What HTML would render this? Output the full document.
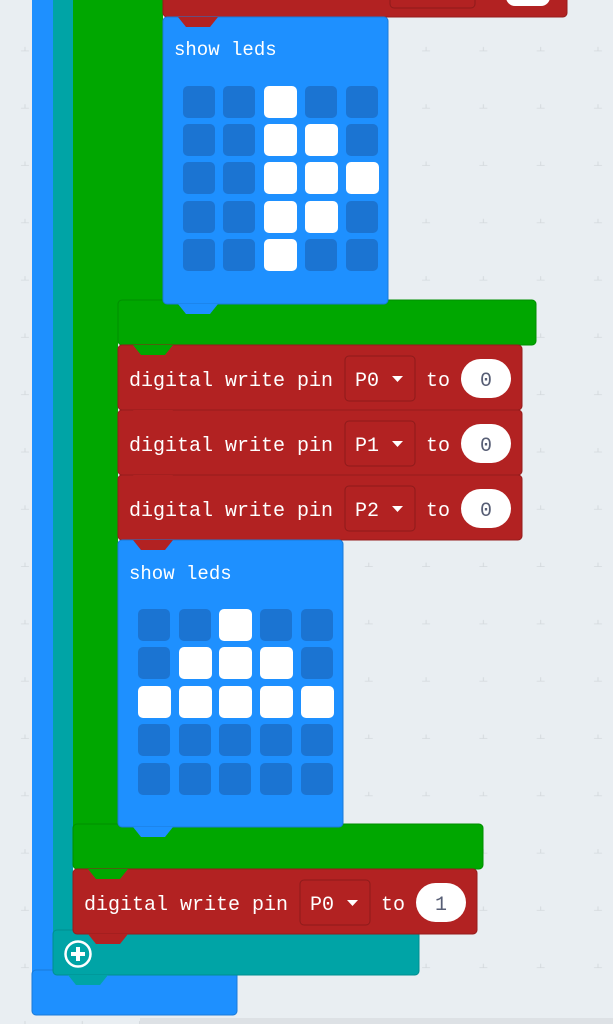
<!DOCTYPE html>
<html><head><meta charset="utf-8"><style>
html,body{margin:0;padding:0;background:#e9eef2;}
svg{display:block}
text{font-family:"Liberation Mono","DejaVu Sans Mono",monospace;}
</style></head><body>
<svg width="613" height="1024" viewBox="0 0 613 1024" xmlns="http://www.w3.org/2000/svg">
<defs>
<pattern id="g" x="-4" y="-6" width="57.3" height="57.3" patternUnits="userSpaceOnUse">
<path d="M29 53v8M25 57h8" stroke="#d4d9dd" stroke-width="1"/>
</pattern>
</defs>
<rect width="613" height="1024" fill="#e9eef2"/>
<rect width="613" height="1024" fill="url(#g)"/>
<rect x="140" y="1018" width="480" height="10" fill="#dde1e5"/>

<!-- outer blue -->
<rect x="32" y="-10" width="21" height="1020" fill="#1e90ff"/>
<rect x="32" y="970" width="205" height="45" rx="4" fill="#1e90ff" stroke="#1a7ad8" stroke-width="1"/>
<!-- teal -->
<rect x="53" y="-10" width="20" height="980" fill="#00a4a6"/>
<rect x="53" y="930" width="366" height="45" rx="4" fill="#00a4a6" stroke="#008e90" stroke-width="1"/>
<!-- outer green -->
<rect x="73" y="-10" width="45" height="875" fill="#00a700"/>
<rect x="73" y="824" width="410" height="45" rx="4" fill="#00a700" stroke="#008f00" stroke-width="1"/>
<!-- inner green -->
<rect x="118" y="-10" width="45" height="350" fill="#00a700"/>
<rect x="118" y="300" width="418" height="45" rx="4" fill="#00a700" stroke="#008f00" stroke-width="1"/>

<!-- top red -->
<rect x="163" y="-20" width="404" height="37" rx="4" fill="#b22222" stroke="#951c1c"/>
<rect x="390" y="-20" width="85" height="28" rx="4" fill="none" stroke="#8e1b1b"/>
<rect x="506" y="-12" width="44" height="18" rx="9" fill="#fff"/>

<!-- show leds 1 -->
<rect x="163" y="17" width="225" height="287" rx="4" fill="#1e90ff" stroke="#1a7ad8"/>
<text x="174" y="55" font-size="19" fill="#fff">show leds</text>

<!-- red blocks -->
<g>
<rect x="118" y="345" width="404" height="65" rx="4" fill="#b22222" stroke="#951c1c"/>
<text x="129" y="386" font-size="20" fill="#fff">digital write pin</text>
<rect x="345" y="356" width="70" height="45" rx="4" fill="none" stroke="#8e1b1b"/>
<text x="355" y="386" font-size="20" fill="#fff">P0</text>
<path d="M392 376h11l-5.5 6z" fill="#fff"/>
<text x="426" y="386" font-size="20" fill="#fff">to</text>
<rect x="461" y="359" width="50" height="39" rx="19.5" fill="#fff"/>
<text x="486" y="386" font-size="20" fill="#575e75" text-anchor="middle">0</text>
</g>
<g transform="translate(0,65)">
<rect x="118" y="345" width="404" height="65" rx="4" fill="#b22222" stroke="#951c1c"/>
<text x="129" y="386" font-size="20" fill="#fff">digital write pin</text>
<rect x="345" y="356" width="70" height="45" rx="4" fill="none" stroke="#8e1b1b"/>
<text x="355" y="386" font-size="20" fill="#fff">P1</text>
<path d="M392 376h11l-5.5 6z" fill="#fff"/>
<text x="426" y="386" font-size="20" fill="#fff">to</text>
<rect x="461" y="359" width="50" height="39" rx="19.5" fill="#fff"/>
<text x="486" y="386" font-size="20" fill="#575e75" text-anchor="middle">0</text>
</g>
<g transform="translate(0,130)">
<rect x="118" y="345" width="404" height="65" rx="4" fill="#b22222" stroke="#951c1c"/>
<text x="129" y="386" font-size="20" fill="#fff">digital write pin</text>
<rect x="345" y="356" width="70" height="45" rx="4" fill="none" stroke="#8e1b1b"/>
<text x="355" y="386" font-size="20" fill="#fff">P2</text>
<path d="M392 376h11l-5.5 6z" fill="#fff"/>
<text x="426" y="386" font-size="20" fill="#fff">to</text>
<rect x="461" y="359" width="50" height="39" rx="19.5" fill="#fff"/>
<text x="486" y="386" font-size="20" fill="#575e75" text-anchor="middle">0</text>
</g>

<!-- show leds 2 -->
<rect x="118" y="540" width="225" height="287" rx="4" fill="#1e90ff" stroke="#1a7ad8"/>
<text x="129" y="579" font-size="19" fill="#fff">show leds</text>

<!-- bottom red -->
<rect x="73" y="869" width="404" height="65" rx="4" fill="#b22222" stroke="#951c1c"/>
<text x="84" y="910" font-size="20" fill="#fff">digital write pin</text>
<rect x="300" y="880" width="70" height="45" rx="4" fill="none" stroke="#8e1b1b"/>
<text x="310" y="910" font-size="20" fill="#fff">P0</text>
<path d="M347 900h11l-5.5 6z" fill="#fff"/>
<text x="381" y="910" font-size="20" fill="#fff">to</text>
<rect x="416" y="883" width="50" height="39" rx="19.5" fill="#fff"/>
<text x="441" y="910" font-size="20" fill="#575e75" text-anchor="middle">1</text>

<!-- tabs -->
<path d="M178 17h40l-8 10h-24z" fill="#b22222"/>
<path d="M178 304h40l-8 10h-24z" fill="#1e90ff"/>
<path d="M133 345h40l-8 10h-24z" fill="#00a700"/>
<path d="M133 410h40l-8 10h-24z" fill="#b22222"/>
<path d="M133 475h40l-8 10h-24z" fill="#b22222"/>
<path d="M133 540h40l-8 10h-24z" fill="#b22222"/>
<path d="M133 827h40l-8 10h-24z" fill="#1e90ff"/>
<path d="M88 869h40l-8 10h-24z" fill="#00a700"/>
<path d="M88 934h40l-8 10h-24z" fill="#b22222"/>
<path d="M68 975h40l-8 10h-24z" fill="#00a4a6"/>

<!-- plus icon -->
<circle cx="78" cy="954" r="12.5" fill="none" stroke="#fff" stroke-width="2.5"/>
<path d="M78 947v14M71 954h14" stroke="#fff" stroke-width="4"/>

<!-- LEDs 1 -->
<g fill="#1b74d2">
<rect x="183" y="86" width="32" height="32" rx="5"/><rect x="223" y="86" width="32" height="32" rx="5"/><rect x="305" y="86" width="32" height="32" rx="5"/><rect x="346" y="86" width="32" height="32" rx="5"/>
<rect x="183" y="124" width="32" height="32" rx="5"/><rect x="223" y="124" width="32" height="32" rx="5"/><rect x="346" y="124" width="32" height="32" rx="5"/>
<rect x="183" y="162" width="32" height="32" rx="5"/><rect x="223" y="162" width="32" height="32" rx="5"/>
<rect x="183" y="201" width="32" height="32" rx="5"/><rect x="223" y="201" width="32" height="32" rx="5"/><rect x="346" y="201" width="32" height="32" rx="5"/>
<rect x="183" y="239" width="32" height="32" rx="5"/><rect x="223" y="239" width="32" height="32" rx="5"/><rect x="305" y="239" width="32" height="32" rx="5"/><rect x="346" y="239" width="32" height="32" rx="5"/>
</g>
<g fill="#fff">
<rect x="264" y="86" width="33" height="32" rx="5"/>
<rect x="264" y="124" width="33" height="32" rx="5"/><rect x="305" y="124" width="33" height="32" rx="5"/>
<rect x="264" y="162" width="33" height="32" rx="5"/><rect x="305" y="162" width="33" height="32" rx="5"/><rect x="346" y="162" width="33" height="32" rx="5"/>
<rect x="264" y="201" width="33" height="32" rx="5"/><rect x="305" y="201" width="33" height="32" rx="5"/>
<rect x="264" y="239" width="33" height="32" rx="5"/>
</g>

<!-- LEDs 2 -->
<g fill="#1b74d2">
<rect x="138" y="609" width="32" height="32" rx="5"/><rect x="179" y="609" width="32" height="32" rx="5"/><rect x="260" y="609" width="32" height="32" rx="5"/><rect x="301" y="609" width="32" height="32" rx="5"/>
<rect x="138" y="647" width="32" height="32" rx="5"/><rect x="301" y="647" width="32" height="32" rx="5"/>
<rect x="138" y="724" width="32" height="32" rx="5"/><rect x="179" y="724" width="32" height="32" rx="5"/><rect x="219" y="724" width="32" height="32" rx="5"/><rect x="260" y="724" width="32" height="32" rx="5"/><rect x="301" y="724" width="32" height="32" rx="5"/>
<rect x="138" y="763" width="32" height="32" rx="5"/><rect x="179" y="763" width="32" height="32" rx="5"/><rect x="219" y="763" width="32" height="32" rx="5"/><rect x="260" y="763" width="32" height="32" rx="5"/><rect x="301" y="763" width="32" height="32" rx="5"/>
</g>
<g fill="#fff">
<rect x="219" y="609" width="33" height="32" rx="5"/>
<rect x="179" y="647" width="33" height="32" rx="5"/><rect x="219" y="647" width="33" height="32" rx="5"/><rect x="260" y="647" width="33" height="32" rx="5"/>
<rect x="138" y="686" width="33" height="32" rx="5"/><rect x="179" y="686" width="33" height="32" rx="5"/><rect x="219" y="686" width="33" height="32" rx="5"/><rect x="260" y="686" width="33" height="32" rx="5"/><rect x="301" y="686" width="33" height="32" rx="5"/>
</g>
</svg>
</body></html>
